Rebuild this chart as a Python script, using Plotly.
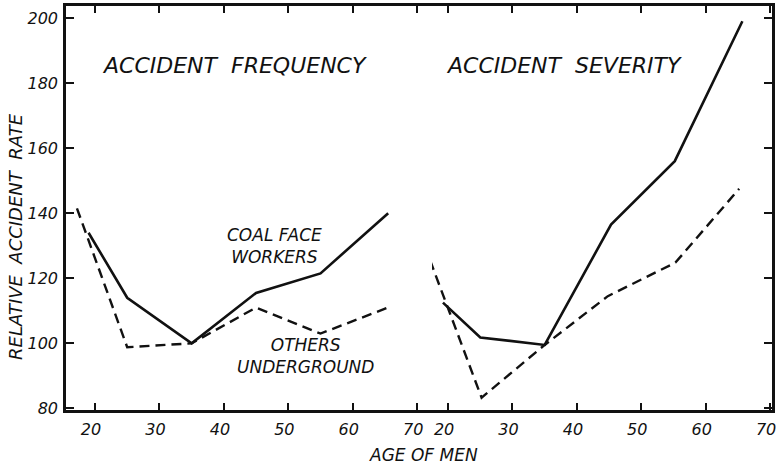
import plotly.graph_objects as go

# ---- data ----
freq_age_coal = [19, 25, 35, 45, 55, 65.5]
freq_coal = [134, 114, 100, 115.5, 121.5, 140]
freq_age_other = [17.2, 25, 35, 45, 55, 65.5]
freq_other = [141.5, 98.8, 100, 111, 103, 111]

sev_age_coal = [19.2, 25, 35, 45.3, 55.2, 65.7]
sev_coal = [112.5, 101.8, 99.5, 136.5, 156, 199]
sev_age_other = [17.2, 25.2, 35, 44.8, 55.3, 65.2]
sev_other = [125.5, 83.3, 99.5, 114.5, 124.8, 147.5]

x_ticks = [20, 30, 40, 50, 60, 70]
y_ticks = [80, 100, 120, 140, 160, 180, 200]

FONT = "DejaVu Sans"
INK = "#111111"

L, R, T, B = 66, 772, 6, 410
W = R - L
H = B - T

fig = go.Figure()

solid = dict(color=INK, width=2.6)
dashed = dict(color=INK, width=2.4, dash="10px,6px")

fig.add_trace(go.Scatter(x=freq_age_coal, y=freq_coal, mode="lines", line=solid,
                         xaxis="x", yaxis="y", showlegend=False))
fig.add_trace(go.Scatter(x=freq_age_other, y=freq_other, mode="lines", line=dashed,
                         xaxis="x", yaxis="y", showlegend=False))
fig.add_trace(go.Scatter(x=sev_age_coal, y=sev_coal, mode="lines", line=solid,
                         xaxis="x2", yaxis="y2", showlegend=False))
fig.add_trace(go.Scatter(x=sev_age_other, y=sev_other, mode="lines", line=dashed,
                         xaxis="x2", yaxis="y2", showlegend=False))

tickfont = dict(family=FONT, size=16, color=INK, style="italic")
split = (432 - L) / W

xcommon = dict(showline=True, linecolor=INK, linewidth=2.5, ticks="inside",
               ticklen=7, tickwidth=2, tickcolor=INK, mirror="ticks",
               showgrid=False, zeroline=False, tickvals=x_ticks,
               tickfont=tickfont, ticklabelstandoff=3, ticklabelshift=-4,
               automargin=False, fixedrange=True)

fig.update_layout(
    width=782, height=466,
    margin=dict(l=L, r=782 - R, t=T, b=466 - B, autoexpand=False),
    paper_bgcolor="white", plot_bgcolor="white",
    xaxis=dict(domain=[0, split], range=[15.5, 72.3], anchor="y", **xcommon),
    xaxis2=dict(domain=[split, 1], range=[17.5, 70.3], anchor="y2", **xcommon),
    yaxis=dict(range=[79.5, 203.7], anchor="x", showline=True, linecolor=INK,
               linewidth=2.5, ticks="inside", ticklen=8, tickwidth=2,
               tickcolor=INK, tickvals=y_ticks, tickfont=tickfont,
               showgrid=False, zeroline=False, ticklabelstandoff=2,
               automargin=False),
    yaxis2=dict(range=[79.5, 203.7], anchor="x2", side="right", showline=True,
                linecolor=INK, linewidth=2.5, ticks="inside", ticklen=8,
                tickwidth=2, tickcolor=INK, tickvals=y_ticks,
                showticklabels=False, showgrid=False, zeroline=False,
                automargin=False),
)

tfont = dict(family=FONT, size=22, color=INK, style="italic")
lfont = dict(family=FONT, size=17, color=INK, style="italic")

fig.add_annotation(x=41.6, y=185.5, xref="x", yref="y", text="ACCIDENT  FREQUENCY",
                   showarrow=False, font=tfont)
fig.add_annotation(x=38, y=185.5, xref="x2", yref="y2", text="ACCIDENT  SEVERITY",
                   showarrow=False, font=tfont)
fig.add_annotation(x=47.9, y=130, xref="x", yref="y", text="COAL FACE<br>WORKERS",
                   showarrow=False, font=lfont, align="center")
fig.add_annotation(x=52.6, y=96, xref="x", yref="y", text="OTHERS<br>UNDERGROUND",
                   showarrow=False, font=lfont, align="center")
fig.add_annotation(x=(424 - L) / W, y=(B - 455) / H, xref="paper", yref="paper",
                   xanchor="center", yanchor="middle",
                   text="AGE OF MEN", showarrow=False, font=lfont)
fig.add_annotation(x=(15 - L) / W, y=(B - 237) / H, xref="paper", yref="paper",
                   xanchor="center", yanchor="middle",
                   text="RELATIVE  ACCIDENT  RATE", textangle=-90, showarrow=False,
                   font=dict(family=FONT, size=18, color=INK, style="italic"))

fig.write_html("out.html", config={"displayModeBar": False},
               post_script="document.body.style.margin='0';")
